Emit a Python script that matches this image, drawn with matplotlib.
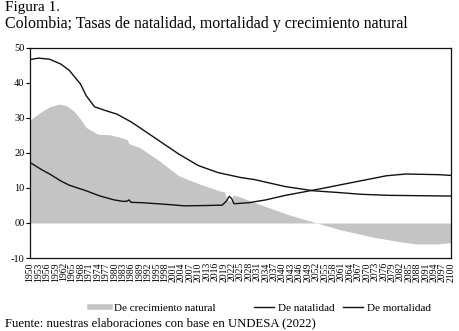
import matplotlib
matplotlib.use("Agg")
import matplotlib.pyplot as plt
from matplotlib.lines import Line2D

plt.rcParams["font.family"] = ["Liberation Serif", "DejaVu Serif"]

# tasas por mil habitantes
years_nat = [1950, 1953, 1957, 1961, 1964, 1968, 1970, 1973, 1977, 1981, 1986, 1989,
             1996, 2003, 2010, 2017, 2025, 2030, 2041, 2051, 2060, 2068, 2078, 2100]
natalidad = [46.7, 47.1, 46.8, 45.4, 43.6, 39.7, 36.4, 33.2, 32.1, 31.1, 28.9, 27.3,
             23.5, 19.7, 16.4, 14.4, 13.0, 12.4, 10.4, 9.2, 8.7, 8.2, 7.9, 7.7]

years_mort = [1950, 1954, 1957, 1961, 1964, 1970, 1975, 1980, 1983, 1984.5, 1985.3, 1986,
              1990, 1999, 2005, 2013, 2018.5, 2020, 2021, 2021.8, 2022.7, 2028, 2034,
              2041, 2053, 2065, 2077, 2084, 2096, 2100]
mortalidad = [17.3, 15.3, 14.0, 12.0, 10.8, 9.2, 7.7, 6.6, 6.2, 6.2, 6.6, 5.9,
              5.8, 5.3, 4.9, 5.0, 5.1, 6.3, 7.6, 7.0, 5.5, 5.8, 6.6,
              7.9, 9.7, 11.6, 13.5, 14.0, 13.8, 13.6]

years_crec = [1950, 1952.5, 1955, 1957, 1960.5, 1963, 1965.5, 1968, 1970, 1974, 1978.5,
              1982, 1984.5, 1985.3, 1989, 1996, 2003, 2010.5, 2017.5, 2019.3, 2020.3,
              2021.5, 2022.3, 2024, 2029.5, 2042, 2052.2, 2060, 2072, 2082, 2088, 2095, 2100]
crecimiento = [29.4, 30.9, 32.3, 33.2, 34.0, 33.5, 32.1, 29.7, 27.3, 25.4, 25.2,
               24.5, 23.9, 22.6, 21.6, 17.8, 13.5, 11.1, 9.2, 8.8, 6.5,
               6.2, 7.9, 7.7, 6.0, 2.4, 0.0, -1.8, -4.0, -5.4, -6.0, -6.0, -5.6]

x_ticks = list(range(1950, 2100, 3)) + [2100]
y_ticks = [-10, 0, 10, 20, 30, 40, 50]
y_labels = ["-10", "00", "10", "20", "30", "40", "50"]

fig = plt.figure(figsize=(4.59, 3.31), dpi=100)
ax = fig.add_axes([30 / 459, 1 - 258 / 331, 421 / 459, 210 / 331])

gris = "#c4c4c4"
negro = "#111111"
ax.fill_between(years_crec, crecimiento, 0, color=gris, lw=0)
ax.plot(years_nat, natalidad, color=negro, lw=1.0)
ax.plot(years_mort, mortalidad, color=negro, lw=1.0)

ax.set_xlim(1950, 2100)
ax.set_ylim(-10, 50)
ax.set_xticks(x_ticks)
ax.set_xticklabels([str(v) for v in x_ticks], rotation=90, fontsize=7)
ax.set_yticks(y_ticks)
ax.set_yticklabels(y_labels, fontsize=7.5)
ax.tick_params(axis="x", length=0, pad=3)
ax.tick_params(axis="y", length=3, width=0.8, pad=1)
for s in ax.spines.values():
    s.set_linewidth(0.9)
    s.set_color(negro)

# leyenda: tres entradas colocadas por separado
entradas = [
    (Line2D([], [], color=gris, lw=4), "De crecimiento natural", 90),
    (Line2D([], [], color=negro, lw=1), "De natalidad", 254),
    (Line2D([], [], color=negro, lw=1), "De mortalidad", 343),
]
for h, lab, x0 in entradas:
    fig.legend([h], [lab], loc="center left", bbox_to_anchor=(x0 / 459, 1 - 308 / 331),
               frameon=False, fontsize=8, handlelength=1.8, handletextpad=0.4,
               borderpad=0, borderaxespad=0)

fig.text(5 / 459, 1 - 8 / 331, "Figura 1.", fontsize=11, va="center")
fig.text(5 / 459, 1 - 24 / 331,
         "Colombia; Tasas de natalidad, mortalidad y crecimiento natural",
         fontsize=11.4, va="center")
fig.text(5 / 459, 1 - 323 / 331,
         "Fuente: nuestras elaboraciones con base en UNDESA (2022)",
         fontsize=9.2, va="center")

fig.savefig("out.png", dpi=100)
